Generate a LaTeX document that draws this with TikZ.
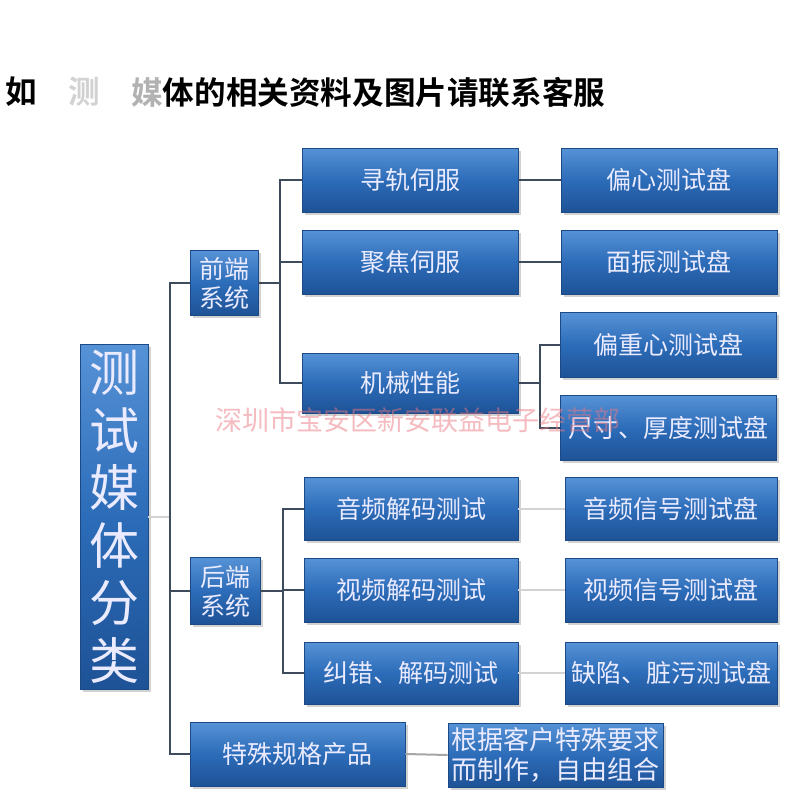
\documentclass[tikz,border=0pt]{standalone}
\usepackage{fontspec}
\newfontfamily\cjk{Noto Sans CJK SC}
\newfontfamily\cjkb{Noto Sans CJK SC Bold}
\usetikzlibrary{shadows}
\definecolor{boxtop}{RGB}{86,146,214}
\definecolor{boxmid}{RGB}{44,108,184}
\definecolor{boxbot}{RGB}{30,82,150}
\definecolor{boxedge}{RGB}{28,74,135}
\definecolor{lineclr}{RGB}{62,75,92}
\definecolor{wmark}{RGB}{235,120,130}
\tikzset{
  box/.style={rectangle, draw=boxedge, line width=0.6pt,
    top color=boxtop, bottom color=boxbot, middle color=boxmid,
    text=white!92!blue, inner sep=0pt, align=center,
    font=\cjk\fontsize{25}{29}\selectfont,
    drop shadow={shadow xshift=2.5pt, shadow yshift=-2.5pt, opacity=0.35}},
  conn/.style={draw=lineclr, line width=2.2pt},
  faint/.style={draw=gray!35, line width=1.6pt},
  titletext/.style={inner sep=0pt, anchor=west, font=\cjkb\fontsize{31.6}{34}\selectfont}
}
\begin{document}
\begin{tikzpicture}[x=1pt,y=-1pt]
\useasboundingbox[fill=white] (0,0) rectangle (800,800);
% title
\node[titletext] (t1) at (5,92) {如};
\node[titletext, text=gray!35] (t2) at (68,92) {测};
\node[titletext] (t3) at (131,92) {\textcolor{gray!60}{媒}体的相关资料及图片请联系客服};
% boxes
\node[box, minimum width=68pt, minimum height=345pt,
      font=\cjk\fontsize{50}{57.5}\selectfont] (root) at (114,517) {测\\试\\媒\\体\\分\\类};
\node[box, minimum width=68pt, minimum height=65pt] (qianduan) at (224,283) {前端\\系统};
\node[box, minimum width=70pt, minimum height=67pt] (houduan) at (225,591) {后端\\系统};
\node[box, minimum width=215pt, minimum height=64pt] (teshu) at (297.5,754) {特殊规格产品};
\node[box, minimum width=215pt, minimum height=64pt,
      font=\cjk\fontsize{26}{30}\selectfont] (genju) at (555.5,755) {根据客户特殊要求\\而制作，自由组合};
\node[box, minimum width=216pt, minimum height=64pt] (xungui) at (410,180) {寻轨伺服};
\node[box, minimum width=216pt, minimum height=64pt] (juji) at (410,262) {聚焦伺服};
\node[box, minimum width=216pt, minimum height=60pt] (jixie) at (410,383) {机械性能};
\node[box, minimum width=214pt, minimum height=63pt] (yinpin) at (411,509) {音频解码测试};
\node[box, minimum width=214pt, minimum height=64pt] (shipin) at (411,590) {视频解码测试};
\node[box, minimum width=214pt, minimum height=62pt] (jiucuo) at (411,673) {纠错、解码测试};
\node[box, minimum width=216pt, minimum height=64pt] (pianxin) at (669,180) {偏心测试盘};
\node[box, minimum width=216pt, minimum height=64pt] (mianzhen) at (669,262) {面振测试盘};
\node[box, minimum width=216pt, minimum height=65pt] (pianzhong) at (668,345) {偏重心测试盘};
\node[box, minimum width=216pt, minimum height=65pt] (chicun) at (668,428) {尺寸、厚度测试盘};
\node[box, minimum width=212pt, minimum height=63pt] (yinxin) at (671,509) {音频信号测试盘};
\node[box, minimum width=212pt, minimum height=64pt] (shixin) at (671,590) {视频信号测试盘};
\node[box, minimum width=212pt, minimum height=62pt] (quexian) at (671,673) {缺陷、脏污测试盘};
% junction points
\coordinate (jt) at (170,283);
\coordinate (jf) at (280,283);
\coordinate (jm) at (540,383);
\coordinate (jb) at (283,591);
% connectors
\draw[faint] (root.east) -- (root.east -| jt);
\draw[conn] (qianduan.west) -- (jt) |- (teshu.west);
\draw[conn] (houduan.west) -- (houduan.west -| jt);
\draw[conn] (qianduan.east) -- (jf);
\draw[conn] (jf) |- (xungui.west);
\draw[conn] (jf) |- (juji.west);
\draw[conn] (jf) |- (jixie.west);
\draw[conn] (xungui.east) -- (pianxin.west);
\draw[conn] (juji.east) -- (mianzhen.west);
\draw[conn] (jixie.east) -- (jm);
\draw[conn] (jm) |- (pianzhong.west);
\draw[conn] (jm) |- (chicun.west);
\draw[conn] (houduan.east) -- (jb);
\draw[conn] (jb) |- (yinpin.west);
\draw[conn] (jb) |- (shipin.west);
\draw[conn] (jb) |- (jiucuo.west);
\draw[faint] (yinpin.east) -- (yinxin.west);
\draw[faint] (shipin.east) -- (shixin.west);
\draw[faint] (jiucuo.east) -- (quexian.west);
\draw[draw=gray!70, line width=2pt] (teshu.east) -- (genju.west);
% watermark
\node[inner sep=0pt, text=wmark, opacity=0.5, font=\cjk\fontsize{27}{30}\selectfont] (wm) at (418,420) {深圳市宝安区新安联益电子经营部};
\end{tikzpicture}
\end{document}
